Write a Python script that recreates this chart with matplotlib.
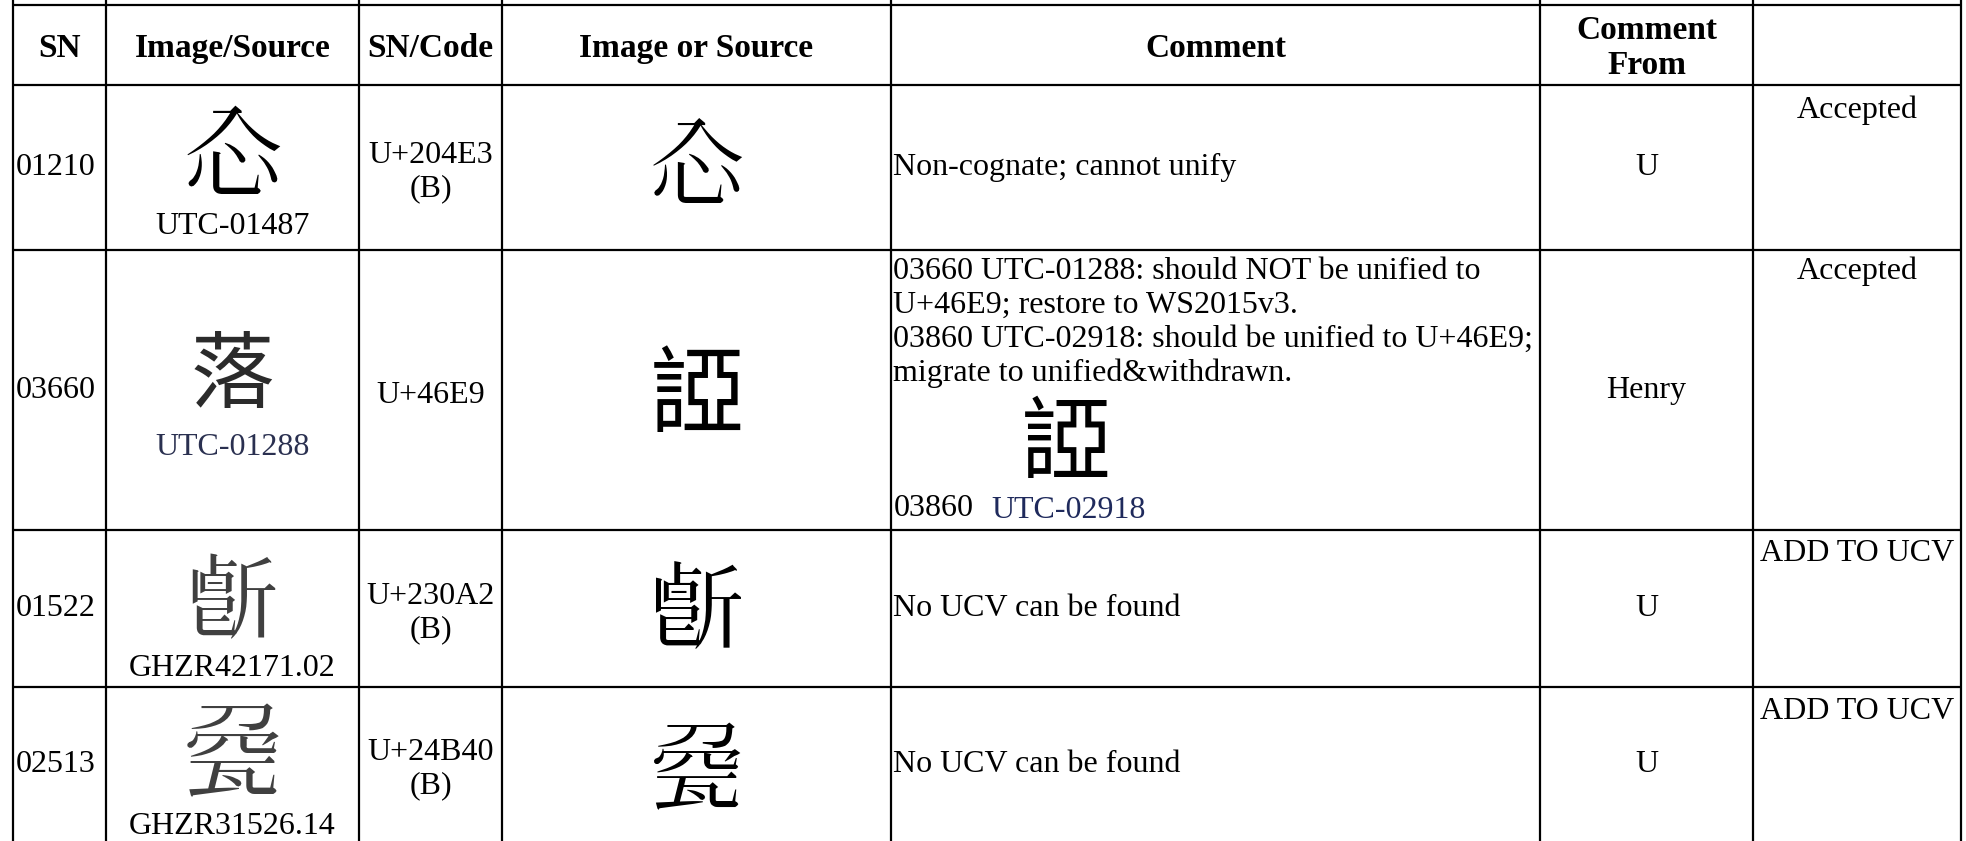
import matplotlib
matplotlib.use("Agg")
import matplotlib.pyplot as plt
from matplotlib import font_manager as fm
from matplotlib.ft2font import FT2Font

plt.rcParams['font.family'] = ['Liberation Serif', 'DejaVu Serif']

# table content
headers = ['SN', 'Image/Source', 'SN/Code', 'Image or Source', 'Comment', 'Comment\nFrom', '']
sn = ['01210', '03660', '01522', '02513']
source_glyph = ['\U000204E3', '落', '\U000230A2', '\U00024B40']
source_label = ['UTC-01487', 'UTC-01288', 'GHZR42171.02', 'GHZR31526.14']
code = ['U+204E3\n(B)', 'U+46E9', 'U+230A2\n(B)', 'U+24B40\n(B)']
ucs_glyph = ['\U000204E3', '\u46E9', '\U000230A2', '\U00024B40']
comment = ['Non-cognate; cannot unify',
           '03660 UTC-01288: should NOT be unified to\nU+46E9; restore to WS2015v3.\n'
           '03860 UTC-02918: should be unified to U+46E9;\nmigrate to unified&withdrawn.',
           'No UCV can be found',
           'No UCV can be found']
comment_from = ['U', 'Henry', 'U', 'U']
status = ['Accepted', 'Accepted', 'ADD TO UCV', 'ADD TO UCV']
extra_sn, extra_glyph, extra_label = '03860', '\u46E9', 'UTC-02918'

# grid (pixels)
col_edges = [13, 106, 359, 502, 891, 1540, 1753, 1961]
row_edges = [5, 85, 250, 530, 687, 841]


def cjk_font(ch):
    prefer = ['Noto Sans CJK TC', 'Noto Sans CJK SC', 'Noto Sans CJK JP', 'Noto Sans CJK KR']
    fonts = sorted(fm.fontManager.ttflist,
                   key=lambda e: (prefer.index(e.name) if e.name in prefer else 99,
                                  abs(int(e.weight) - 400) if str(e.weight).isdigit() else 50))
    for e in fonts:
        try:
            if FT2Font(e.fname).get_char_index(ord(ch)):
                return fm.FontProperties(fname=e.fname)
        except Exception:
            pass
    return fm.FontProperties(family='Noto Sans CJK SC')


def glyph(x, y, ch, size, color='black'):
    # shift so the visible glyph (not its line box) is centred on y
    ax.text(x, y + size * 0.16, ch, ha='center', va='center', fontsize=size,
            color=color, fontproperties=cjk_font(ch))


fig = plt.figure(figsize=(19.66, 8.41), dpi=100)
ax = fig.add_axes([0, 0, 1, 1])
ax.set_xlim(0, 1966)
ax.set_ylim(841, 0)
ax.axis('off')

ax.vlines(col_edges, 0, 841, color='black', lw=1.6)
ax.hlines(row_edges[:-1], col_edges[0], col_edges[-1], color='black', lw=1.6)

fs = 23
mid = [(col_edges[i] + col_edges[i + 1]) / 2 for i in range(len(col_edges) - 1)]
ymid = [(row_edges[i] + row_edges[i + 1]) / 2 for i in range(len(row_edges) - 1)]

for i, h in enumerate(headers):
    ax.text(mid[i], 48, h, ha='center', va='center', fontsize=24,
            fontweight='bold', linespacing=1.17)

source_color = ['black', '#2b2b2b', '#404040', '#404040']
label_color = ['black', '#2a3050', 'black', 'black']
source_y = [153, 367, 598, 752]
source_size = [71, 60, 66, 72]
label_y = [226, 447, 669, 827]
ucs_y = [163, 387, 607, 768]
status_dy = [10, 6, 9, 10]

for r in range(4):
    y0, y1 = row_edges[r + 1], row_edges[r + 2]
    yc = ymid[r + 1]
    ax.text(col_edges[0] + 3, yc, sn[r], ha='left', va='center', fontsize=fs)
    # image / source
    glyph(mid[1], source_y[r], source_glyph[r], source_size[r], source_color[r])
    ax.text(mid[1], label_y[r], source_label[r], ha='center', va='center',
            fontsize=fs, color=label_color[r])
    ax.text(mid[2], yc + 5, code[r], ha='center', va='center', fontsize=fs,
            linespacing=1.19)
    glyph(697, ucs_y[r], ucs_glyph[r], 68)
    if r == 1:
        ax.text(col_edges[4] + 2, y0 + 7, comment[r], ha='left', va='top',
                fontsize=fs, linespacing=1.22)
        glyph(1066, 436, extra_glyph, 65)
        ax.text(col_edges[4] + 3, 509, extra_sn, ha='left', va='center', fontsize=fs)
        ax.text(991, 511, extra_label, ha='left', va='center', fontsize=fs,
                color='#1f2a5c')
    else:
        ax.text(col_edges[4] + 2, yc, comment[r], ha='left', va='center', fontsize=fs)
    ax.text(mid[5], yc, comment_from[r], ha='center', va='center', fontsize=fs)
    ax.text(mid[6], y0 + status_dy[r], status[r], ha='center', va='top', fontsize=fs)

fig.savefig('out.png', dpi=100)
